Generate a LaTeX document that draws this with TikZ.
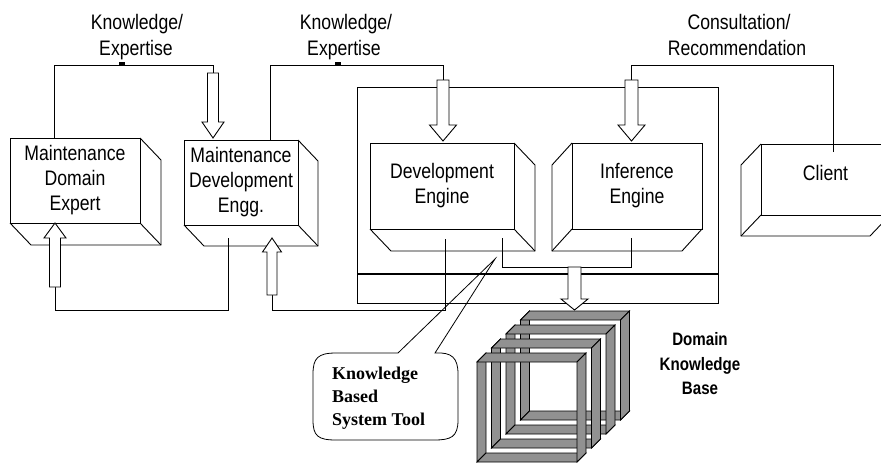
\documentclass[tikz,border=0pt]{standalone}
\usepackage{fontspec}
\setmainfont{Liberation Sans}[FakeStretch=0.84]
\newfontfamily\notefont{Liberation Serif}
\usetikzlibrary{calc}
\definecolor{bandgray}{RGB}{145,145,145}
\newcommand\boxfont{\fontsize{21}{25}\selectfont}

% hollow block arrow: x, tail y, head base y, tip y, shaft half width, head half width
\newcommand\hollowarrow[6]{%
  \filldraw[hollow] (#1-#5,#2) -- (#1-#5,#3) -- (#1-#6,#3) -- (#1,#4)
    -- (#1+#6,#3) -- (#1+#5,#3) -- (#1+#5,#2) -- cycle;}

% depth faces of a box whose depth runs to the right / to the left
\newcommand\depthright[3]{%
  \draw[edge] (#1.north east) -- ++(#2,#3) -- ([shift={(#2,#3)}]#1.south east)
    -- ([shift={(#2,#3)}]#1.south west) -- (#1.south west);
  \draw[edge] (#1.south east) -- ++(#2,#3);}
\newcommand\depthleft[3]{%
  \draw[edge] (#1.north west) -- ++(#2,#3) -- ([shift={(#2,#3)}]#1.south west)
    -- ([shift={(#2,#3)}]#1.south east) -- (#1.south east);
  \draw[edge] (#1.south west) -- ++(#2,#3);}

% one square band of the knowledge base stack (front top-left corner given)
\newcommand\kbband[2]{%
  \begin{scope}[shift={(#1,#2)}]
    \filldraw[band] (0,0) -- (9,-9) -- (9,91) -- (0,100) -- cycle;
    \filldraw[band] (0,100) -- (9,91) -- (109,91) -- (100,100) -- cycle;
    \filldraw[band] (0,0) -- (100,0) -- (109,-9) -- (9,-9) -- cycle;
    \filldraw[band] (100,0) -- (109,-9) -- (109,91) -- (100,100) -- cycle;
  \end{scope}}

\begin{document}
\begin{tikzpicture}[x=1pt,y=-1pt,
  face/.style={draw, line width=0.9pt, fill=white, inner sep=1pt, outer sep=0pt,
    align=center, font=\boxfont},
  edge/.style={line width=0.9pt},
  link/.style={line width=0.8pt},
  hollow/.style={draw, line width=0.9pt, fill=white},
  band/.style={draw, line width=0.8pt, fill=bandgray},
  hdr/.style={anchor=base, inner sep=0pt, font=\boxfont},
  note/.style={anchor=base west, inner sep=0pt,
    font=\notefont\bfseries\fontsize{18}{23}\selectfont},
  kbtext/.style={anchor=base, inner sep=0pt, font=\bfseries\fontsize{18}{23}\selectfont},
]
\clip (0,0) rectangle (881,464);

% knowledge based system tool frame
\node[draw, line width=0.9pt, minimum width=361pt, minimum height=216pt,
  inner sep=0pt, outer sep=0pt] (tool) at (537.5,195) {};
\coordinate (sep) at (0,274);
\draw[line width=1.6pt] (tool.west |- sep) -- (tool.east |- sep);

% boxes
\node[face, minimum width=130pt, minimum height=85pt] (expert) at (75,180.5)
  {Maintenance\\Domain\\Expert};
\depthright{expert}{21}{22}
\node[face, minimum width=114pt, minimum height=85pt] (deveng) at (241,182.5)
  {Maintenance\\Development\\Engg.};
\depthright{deveng}{20}{21}
\node[face, minimum width=144pt, minimum height=86pt] (develop) at (442,186)
  {Development\\Engine};
\depthright{develop}{21}{22}
\node[face, minimum width=130pt, minimum height=86pt] (infer) at (637,186)
  {Inference\\Engine};
\depthleft{infer}{-20}{22}
\node[face, minimum width=129pt, minimum height=71pt] (client) at (825.5,179.5) {};
\node[hdr] (clienttext) at (825.5,180) {Client};
\depthleft{client}{-20}{21}

% flow labels
\node[hdr] (h1a) at (137,29) {Knowledge/};
\node[hdr] (h1b) at (136,55) {Expertise};
\node[hdr] (h2a) at (346,29) {Knowledge/};
\node[hdr] (h2b) at (344,55) {Expertise};
\node[hdr] (h3a) at (739,29) {Consultation/};
\node[hdr] (h3b) at (737,55) {Recommendation};

% routing levels and connector ends
\coordinate (bus) at (0,65);
\coordinate (low) at (0,310);
\coordinate (mid) at (0,267);
\coordinate (a1t) at (213,73);
\coordinate (a2t) at (443,80);
\coordinate (a3t) at (631.5,80);
\coordinate (a4t) at (55,287);
\coordinate (a5t) at (272,295);
\coordinate (e1) at ([xshift=-21pt]expert.north);
\coordinate (e2) at ([xshift=29pt]deveng.north);
\coordinate (e3) at ([xshift=7.5pt,yshift=-8pt]client.north);
\coordinate (e4) at ([xshift=-13pt,yshift=-13pt]deveng.south);
\coordinate (e5) at ([xshift=3pt,yshift=-10pt]develop.south);
\coordinate (e6) at ([xshift=60pt,yshift=-9pt]develop.south);
\coordinate (e7) at ([xshift=-6pt,yshift=-9pt]infer.south);

\draw[link] (e1) -- (e1 |- bus) -| (a1t);
\draw[link] (e2) -- (e2 |- bus) -| (a2t);
\draw[link] (e3) -- (e3 |- bus) -| (a3t);
\draw[link] (e4) -- (e4 |- low) -| (a4t);
\draw[link] (a5t) -- (a5t |- low) -| (e5);
\draw[link] (e6) -- (e6 |- mid) -| (e7);

% small marks on the upper lines
\fill (119,62) rectangle (125,65);
\fill (335,62) rectangle (341,65);

% block arrows
\hollowarrow{213}{73}{122}{138}{5.5}{11}
\hollowarrow{443}{80}{125}{141}{6}{13.5}
\hollowarrow{631.5}{80}{125}{141}{6.5}{13.5}
\hollowarrow{55}{287}{238}{223}{5.5}{11}
\hollowarrow{272}{295}{252}{238}{5}{9.5}
\hollowarrow{574.5}{267}{299}{310}{6.5}{13.5}

% domain knowledge base stack
\kbband{520.5}{320}
\kbband{506}{334}
\kbband{491.5}{348}
\kbband{477}{362}
\node[kbtext] (d1) at (700,345) {Domain};
\node[kbtext] (d2) at (700,370) {Knowledge};
\node[kbtext] (d3) at (700,394) {Base};

% callout
\coordinate (tip) at (495,259);
\draw[line width=0.8pt] (398,353) -- (tip) -- (435,353)
  .. controls (452,352) and (458,358) .. (458,374) -- (458,420)
  .. controls (458,437) and (451,440) .. (434,440) -- (336,440)
  .. controls (318,440) and (313,436) .. (313,420) -- (313,374)
  .. controls (313,358) and (318,353) .. (336,353) -- cycle;
\node[note] (n1) at (332,379) {Knowledge};
\node[note] (n2) at (332,402) {Based};
\node[note] (n3) at (332,425) {System Tool};
\end{tikzpicture}
\end{document}
